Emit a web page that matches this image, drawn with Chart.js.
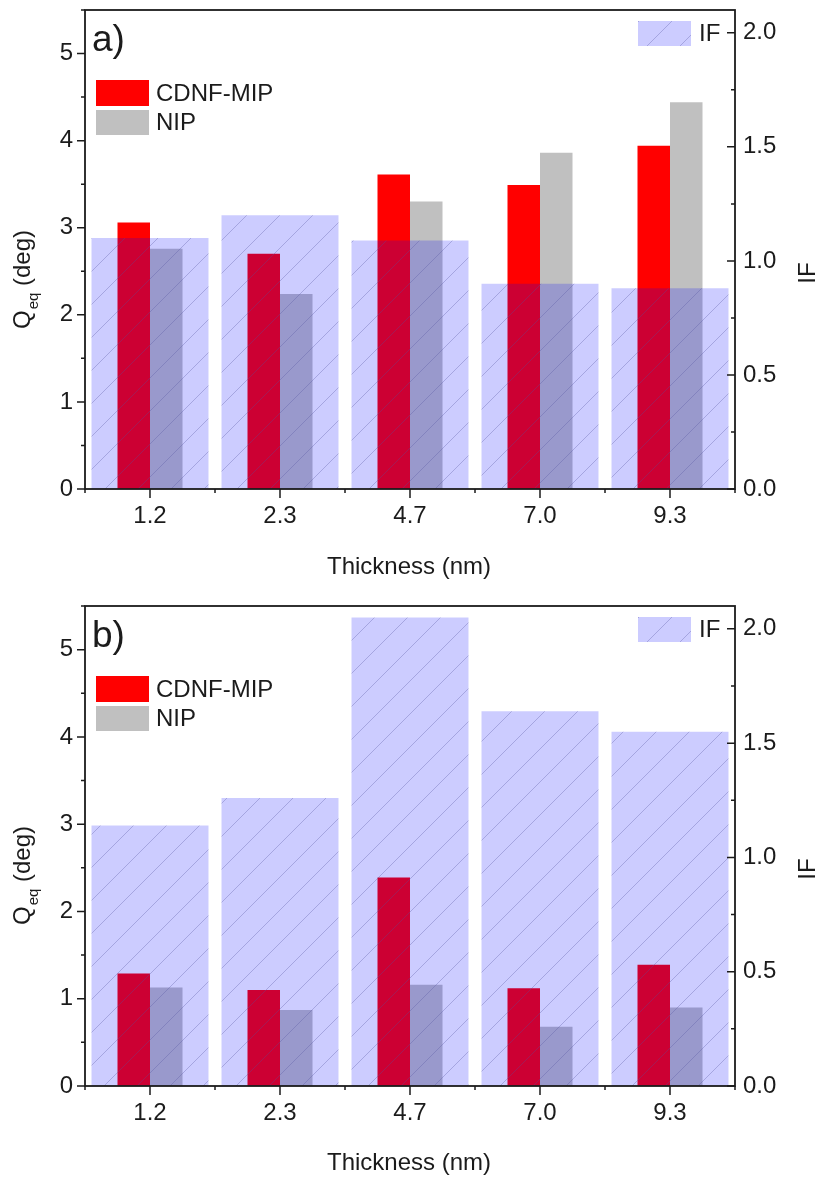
<!DOCTYPE html>
<html><head><meta charset="utf-8">
<script src="https://cdn.jsdelivr.net/npm/chart.js@4.4.0/dist/chart.umd.min.js"></script>
<style>
html,body{margin:0;padding:0;background:#fff;}
canvas{display:block;}
</style></head><body>
<canvas id="c1" width="818" height="596"></canvas>
<canvas id="c2" width="818" height="582"></canvas>
<script>
// ---- data ----
const categories = ['1.2', '2.3', '4.7', '7.0', '9.3'];
const mipA = [3.06, 2.70, 3.61, 3.49, 3.94];
const nipA = [2.76, 2.24, 3.30, 3.86, 4.44];
const ifA  = [1.10, 1.20, 1.09, 0.90, 0.88];
const mipB = [1.29, 1.10, 2.39, 1.12, 1.39];
const nipB = [1.13, 0.87, 1.16, 0.68, 0.90];
const ifB  = [1.14, 1.26, 2.05, 1.64, 1.55];
const qMax = 5.5, ifMax = 2.1;
const qStep = 1, ifStep = 0.5;

const FONT = '"Liberation Sans", Arial, sans-serif';
const INK = '#1b1b1b';
const FS = 24;
Chart.defaults.font.family = FONT;
Chart.defaults.color = INK;

function makePattern() {
  const s = 33;
  const c = document.createElement('canvas');
  c.width = s; c.height = s;
  const g = c.getContext('2d');
  g.fillStyle = 'rgba(0,0,255,0.2)';
  g.fillRect(0, 0, s, s);
  g.strokeStyle = 'rgba(80,80,160,0.32)';
  g.lineWidth = 1;
  g.beginPath();
  g.moveTo(-1, s + 1); g.lineTo(s + 1, -1);
  g.moveTo(-1, 1); g.lineTo(1, -1);
  g.moveTo(s - 1, s + 1); g.lineTo(s + 1, s - 1);
  g.stroke();
  return document.createElement('canvas').getContext('2d').createPattern(c, 'repeat');
}

const decor = {
  id: 'decor',
  afterDraw(chart, args, o) {
    const { ctx, chartArea: a, scales } = chart;
    const y = scales.y, y1 = scales.y1, x = scales.x;
    ctx.save();
    ctx.strokeStyle = INK;
    ctx.lineWidth = 1.8;
    ctx.strokeRect(a.left, a.top, a.right - a.left, a.bottom - a.top);
    ctx.lineWidth = 1.5;
    ctx.beginPath();
    for (let k = 0; k * 0.5 <= qMax + 1e-9; k++) {
      const p = y.getPixelForValue(k * 0.5);
      const L = k % 2 === 0 ? 8 : 4;
      ctx.moveTo(a.left, p); ctx.lineTo(a.left - L, p);
    }
    for (let k = 0; k * 0.25 <= ifMax + 1e-9; k++) {
      const p = y1.getPixelForValue(k * 0.25);
      const L = k % 2 === 0 ? 8 : 4;
      ctx.moveTo(a.right, p); ctx.lineTo(a.right - L, p);
    }
    for (let i = 0; i < categories.length; i++) {
      const p = x.getPixelForValue(i);
      ctx.moveTo(p, a.bottom); ctx.lineTo(p, a.bottom + 9);
    }
    for (let i = 0; i <= categories.length; i++) {
      const p = x.getPixelForValue(i - 0.5);
      ctx.moveTo(p, a.bottom); ctx.lineTo(p, a.bottom + 4);
    }
    ctx.stroke();

    ctx.fillStyle = INK;
    // panel letter
    ctx.font = '37px ' + FONT;
    ctx.textBaseline = 'alphabetic';
    ctx.textAlign = 'left';
    ctx.fillText(o.letter, 92, 51);

    // legends
    ctx.fillStyle = 'rgb(255,0,0)';
    ctx.fillRect(96, 80, 53, 26);
    ctx.fillStyle = 'rgb(192,192,192)';
    ctx.fillRect(96, 110, 53, 25);
    ctx.fillStyle = 'rgb(255,255,255)';
    ctx.fillRect(638, 21, 53, 25);
    ctx.fillStyle = o.pattern;
    ctx.fillRect(638, 21, 53, 25);
    ctx.fillStyle = INK;
    ctx.font = FS + 'px ' + FONT;
    ctx.textBaseline = 'middle';
    ctx.fillText('CDNF-MIP', 156, 94);
    ctx.fillText('NIP', 156, 123);
    ctx.fillText('IF', 699, 34);

    // x title
    ctx.textBaseline = 'alphabetic';
    ctx.textAlign = 'center';
    ctx.fillText('Thickness (nm)', 409, 574);

    // left title Q_eq (deg)
    ctx.save();
    ctx.translate(30, 329);
    ctx.rotate(-Math.PI / 2);
    ctx.textAlign = 'left';
    ctx.font = FS + 'px ' + FONT;
    ctx.fillText('Q', 0, 0);
    let w = ctx.measureText('Q').width;
    ctx.font = '15px ' + FONT;
    ctx.fillText('eq', w + 1, 8);
    w += ctx.measureText('eq').width + 1;
    ctx.font = FS + 'px ' + FONT;
    ctx.fillText(' (deg)', w, 0);
    ctx.restore();

    // right title IF
    ctx.save();
    ctx.translate(815, 273);
    ctx.rotate(-Math.PI / 2);
    ctx.textAlign = 'center';
    ctx.font = FS + 'px ' + FONT;
    ctx.fillText('IF', 0, 0);
    ctx.restore();

    ctx.restore();
  }
};

function makeChart(id, mip, nip, ifv, letter, plotBottom) {
  const cv = document.getElementById(id);
  const pattern = makePattern();
  return new Chart(cv, {
    type: 'bar',
    data: {
      labels: categories,
      datasets: [
        { label: 'IF', data: ifv, yAxisID: 'y1', backgroundColor: pattern,
          grouped: false, categoryPercentage: 0.9, barPercentage: 1.0, borderWidth: 0 },
        { label: 'CDNF-MIP', data: mip, yAxisID: 'y', backgroundColor: 'rgb(255,0,0)',
          categoryPercentage: 0.5, barPercentage: 1.0, borderWidth: 0 },
        { label: 'NIP', data: nip, yAxisID: 'y', backgroundColor: 'rgb(192,192,192)',
          categoryPercentage: 0.5, barPercentage: 1.0, borderWidth: 0 }
      ]
    },
    options: {
      responsive: false,
      animation: false,
      devicePixelRatio: 1,
      layout: { padding: { top: 10, left: 0, right: 0, bottom: 0 } },
      plugins: { legend: { display: false }, tooltip: { enabled: false }, decor: { letter, pattern } },
      scales: {
        x: {
          grid: { display: false, drawTicks: false },
          border: { display: false },
          ticks: { font: { size: FS }, color: INK, padding: 13, maxRotation: 0 },
          afterFit(s) { s.height = cv.height - plotBottom; s.paddingLeft = 0; s.paddingRight = 0; }
        },
        y: {
          position: 'left', min: 0, max: qMax,
          grid: { display: false, drawTicks: false },
          border: { display: false },
          ticks: { stepSize: qStep, includeBounds: false, font: { size: FS }, color: INK, padding: 12 },
          afterFit(s) { s.width = 85; s.paddingTop = 0; s.paddingBottom = 0; }
        },
        y1: {
          position: 'right', min: 0, max: ifMax,
          grid: { display: false, drawTicks: false },
          border: { display: false },
          ticks: { stepSize: ifStep, includeBounds: false, font: { size: FS }, color: INK, padding: 8,
                   callback: v => Number(v).toFixed(1) },
          afterFit(s) { s.width = 83; s.paddingTop = 0; s.paddingBottom = 0; }
        }
      }
    },
    plugins: [decor]
  });
}

makeChart('c1', mipA, nipA, ifA, 'a)', 489);
makeChart('c2', mipB, nipB, ifB, 'b)', 490);
</script>
</body></html>
